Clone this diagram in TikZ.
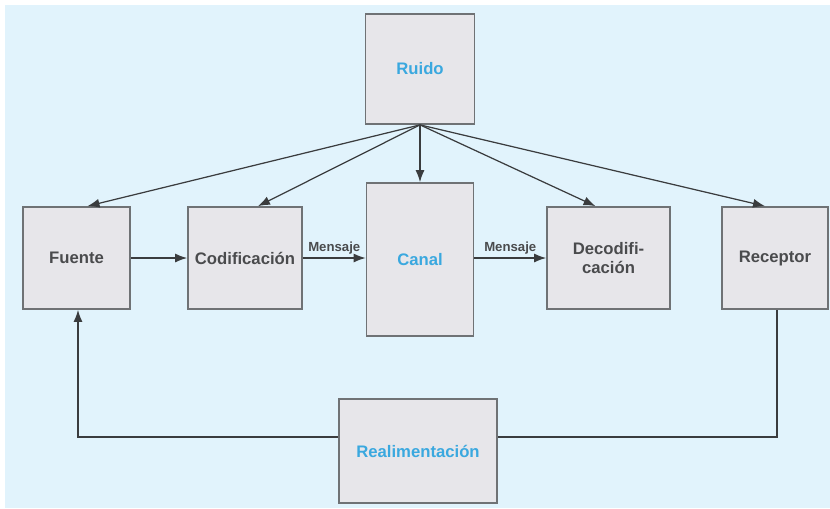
\documentclass[tikz,border=0pt]{standalone}
\usepackage{fontspec}
\setmainfont{Liberation Sans}
\usepackage{xcolor}
\usepackage{tikz}
\usetikzlibrary{positioning,calc}
\usetikzlibrary{arrows.meta}

\definecolor{fondo}{HTML}{E1F3FC}
\definecolor{cajafill}{HTML}{E7E6EA}
\definecolor{cajaborde}{HTML}{6F7275}
\definecolor{texto}{HTML}{4A4B4D}
\definecolor{azul}{HTML}{3AA8DF}
\definecolor{flecha}{HTML}{3A3C3E}

\tikzset{
  caja/.style={draw=cajaborde, fill=cajafill, line width=1pt, text=texto,
    font=\fontsize{9.5}{11}\selectfont\bfseries, align=center,
    minimum height=2.04cm, inner sep=0pt},
  titulo/.style={text=azul},
  flujo/.style={draw=flecha, line width=0.7pt, -{Latex[length=2.4mm,width=1.8mm]}},
  linea/.style={draw=flecha, line width=0.7pt},
  etiqueta/.style={text=texto, font=\fontsize{7.5}{9}\selectfont\bfseries, inner sep=2pt}
}

\begin{document}
\begin{tikzpicture}[x=0.02cm, y=-0.02cm]
 \useasboundingbox (0,0) rectangle (830,508);
 \fill[white] (0,0) rectangle (830,508);
 \fill[fondo] (5,5) rectangle (830,508);

 % cajas
 \node[caja, titulo, minimum width=2.18cm, minimum height=2.2cm] (ruido) at (420,69) {Ruido};
 \node[caja, minimum width=2.14cm] (fuente) at (76.5,258) {Fuente};
 \node[caja, minimum width=2.28cm] (codif) at (245,258) {Codificación};
 \node[caja, titulo, minimum width=2.14cm, minimum height=3.06cm] (canal) at (420,259.5) {Canal};
 \node[caja, minimum width=2.46cm] (decodif) at (608.5,258) {Decodifi-\\cación};
 \node[caja, minimum width=2.12cm] (receptor) at (775,258) {Receptor};
 \node[caja, titulo, minimum width=3.16cm, minimum height=2.08cm] (realim) at (418,451) {Realimentación};

 % ruido hacia abajo
 \draw[flujo] (ruido.south) -- ([xshift=0.22cm]fuente.north);
 \draw[flujo] (ruido.south) -- ([xshift=0.26cm]codif.north);
 \draw[flujo] (ruido.south) -- (canal.north);
 \draw[flujo] (ruido.south) -- ([xshift=-0.26cm]decodif.north);
 \draw[flujo] (ruido.south) -- ([xshift=-0.2cm]receptor.north);

 % mensaje
 \draw[flujo] (fuente.east) -- (codif.west);
 \draw[flujo] (codif.east) -- node[etiqueta, above] (msj1) {Mensaje} (codif.east -| canal.west);
 \draw[flujo] (canal.east |- decodif.west) -- node[etiqueta, above] (msj2) {Mensaje} (decodif.west);

 % realimentacion
 \coordinate (fb) at (0,437);
 \draw[linea] ([xshift=0.04cm]receptor.south) |- (realim.east |- fb);
 \draw[flujo] (realim.west |- fb) -| ([xshift=0.03cm]fuente.south);
\end{tikzpicture}
\end{document}
